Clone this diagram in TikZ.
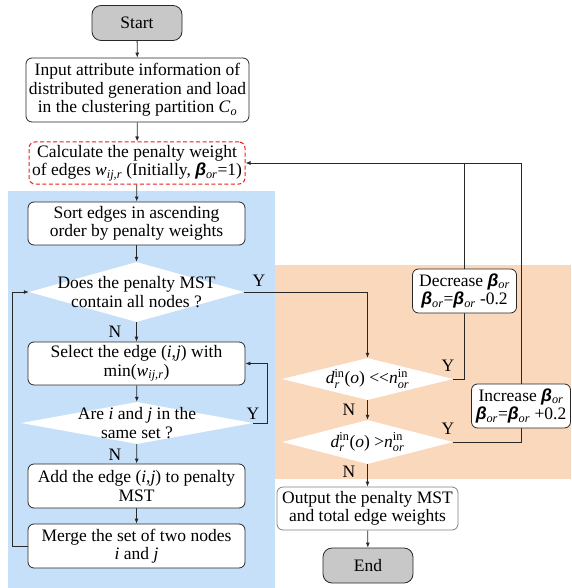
\documentclass[tikz,border=0pt]{standalone}
\usepackage{amsmath}
\usepackage{fontspec}
\setmainfont{Liberation Serif}
\newfontfamily\betafont{Liberation Sans}
\usetikzlibrary{shapes.geometric,arrows.meta}
\pgfdeclarelayer{back}\pgfdeclarelayer{lines}\pgfsetlayers{back,lines,main}
\definecolor{bluebg}{RGB}{198,224,250}
\definecolor{orangebg}{RGB}{250,216,188}
\definecolor{linec}{RGB}{40,40,40}
\definecolor{termfill}{RGB}{200,200,200}
\definecolor{dashred}{RGB}{235,30,30}
\newcommand{\bor}{{\betafont\bfseries\itshape β}$_{\textit{or}}$}
\begin{document}
\begin{tikzpicture}[x=1pt,y=-1pt,font=\fontsize{17.5}{18.5}\selectfont,
  box/.style={draw=linec, line width=0.8pt, rounded corners=6pt, fill=white, align=center, inner sep=0pt},
  term/.style={box, fill=termfill, rounded corners=9pt},
  dia/.style={diamond, fill=white, inner sep=0pt},
  conn/.style={draw=linec, line width=0.8pt, -{Latex[length=5pt,width=4pt]}},
  plain/.style={draw=linec, line width=0.8pt},
  lab/.style={inner sep=0pt}]
\useasboundingbox (0,0) rectangle (571,588);
\begin{pgfonlayer}{back}
  \fill[bluebg] (8,191) rectangle (275,588);
  \fill[orangebg] (275,265) rectangle (571,479);
\end{pgfonlayer}
\node[term, minimum width=90pt, minimum height=35pt] (start) at (137,23) {Start};
\node[box, minimum width=223pt, minimum height=64pt] (input) at (137.5,90) {Input attribute information of\\ distributed generation and load\\ in the clustering partition \textit{C}$_{\textit{o}}$};
\node[box, draw=dashred, dash pattern=on 4pt off 2.5pt, line width=1pt, minimum width=216pt, minimum height=42pt] (calc) at (137,163) {Calculate the penalty weight\\ of edges \textit{w}$_{\textit{ij,r}}$ (Initially, \bor=1)};
\node[box, minimum width=217pt, minimum height=43pt] (sort) at (136.5,223.5) {Sort edges in ascending\\ order by penalty weights};
\node[dia, minimum width=215pt, minimum height=60pt] (d1) at (136.5,292) {};
\node[align=center, lab] (d1t) at (d1) {Does the penalty MST\\ contain all nodes ?};
\node[box, minimum width=217pt, minimum height=43pt] (sel) at (136.5,363.5) {Select the edge (\textit{i},\textit{j}) with\\ min(\textit{w}$_{\textit{ij,r}}$)};
\node[dia, minimum width=232pt, minimum height=42pt] (d2) at (137,423) {};
\node[align=center, lab] (d2t) at (d2) {Are \textit{i} and \textit{j} in the\\ same set ?};
\node[box, minimum width=217pt, minimum height=44pt] (add) at (136.5,486) {Add the edge (\textit{i},\textit{j}) to penalty\\ MST};
\node[box, minimum width=217pt, minimum height=44pt] (merge) at (136.5,546) {Merge the set of two nodes\\ \textit{i} and \textit{j}};
\node[dia, minimum width=171pt, minimum height=42pt] (d3) at (367.5,379) {};
\node[lab] (d3t) at (d3) {\textit{d}$_{\textit{r}}^{\textup{in}}$(\textit{o}) <{}<\textit{n}$_{\textit{or}}^{\textup{in}}$};
\node[dia, minimum width=171pt, minimum height=44pt] (d4) at (367.5,442) {};
\node[lab] (d4t) at (d4) {\textit{d}$_{\textit{r}}^{\textup{in}}$(\textit{o}) >\textit{n}$_{\textit{or}}^{\textup{in}}$};
\node[box, minimum width=104pt, minimum height=44pt] (dec) at (464.5,291) {Decrease \bor\\ \bor=\bor{} -0.2};
\node[box, minimum width=99pt, minimum height=44pt] (inc) at (521,406) {Increase \bor\\ \bor=\bor{} +0.2};
\node[box, draw=gray, minimum width=181pt, minimum height=43pt] (out) at (367.5,508.5) {Output the penalty MST\\ and total edge weights};
\node[term, minimum width=90pt, minimum height=35pt] (end) at (368,565.5) {End};
\coordinate (lx) at (12,0);
\coordinate (rx) at (267,0);
\begin{pgfonlayer}{lines}
  \draw[conn] (start) -- (input);
  \draw[conn] (input) -- (calc);
  \draw[conn] (calc) -- (sort);
  \draw[conn] (sort) -- (d1);
  \draw[conn] (d1) -- (sel);
  \draw[conn] (sel) -- (d2);
  \draw[conn] (d2) -- (add);
  \draw[conn] (add) -- (merge);
  \draw[conn] (merge.west) -- (merge.west -| lx) -- (d1.west -| lx) -- (d1.west);
  \draw[conn] (d2.east) -- (d2.east -| rx) -- (sel.east -| rx) -- (sel.east);
  \draw[conn] (d1.east) -- (d1.east -| d3.north) -- (d3.north);
  \draw[conn] (d3) -- (d4);
  \draw[conn] (d4) -- (out);
  \draw[conn] (out) -- (end);
  \draw[plain] (d3.east) -- (d3.east -| dec.south) -- (dec.south);
  \draw[plain] (dec.north) -- (dec.north |- calc.east);
  \draw[plain] (d4.east) -- (d4.east -| inc.south) -- (inc.south);
  \draw[conn] (inc.north) -- (inc.north |- calc.east) -- (calc.east);
\end{pgfonlayer}
\node[lab] (y1) at (259,281) {Y};
\node[lab] (n1) at (115,332) {N};
\node[lab] (y2) at (253,414) {Y};
\node[lab] (n2) at (115,455) {N};
\node[lab] (y3) at (448,366) {Y};
\node[lab] (n3) at (349,410) {N};
\node[lab] (y4) at (448,429) {Y};
\node[lab] (n4) at (349,472) {N};
\end{tikzpicture}
\end{document}
